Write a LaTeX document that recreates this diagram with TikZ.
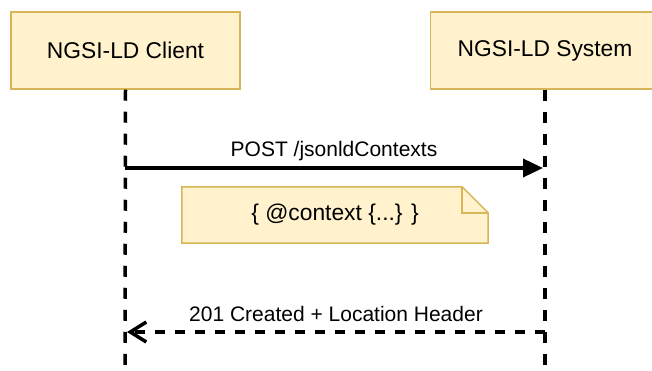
\documentclass[tikz,border=0pt]{standalone}
\usepackage{fontspec}
\setmainfont{Liberation Sans}
\usetikzlibrary{arrows.meta, positioning, backgrounds, calc}

\definecolor{notefill}{HTML}{FFF2CC}
\definecolor{notedraw}{HTML}{D6B656}

\begin{document}
\begin{tikzpicture}[
  x=1pt, y=-1pt,
  actor/.style={rectangle, draw=notedraw, fill=notefill, line width=1.5pt,
                minimum width=229pt, minimum height=77pt, align=center,
                font=\fontsize{22.8}{26}\selectfont},
  notebox/.style={rectangle, minimum width=306pt, minimum height=56pt,
                  align=center, font=\fontsize{22.8}{26}\selectfont},
  lifeline/.style={line width=3.5pt, dash pattern=on 11pt off 11pt},
  msg/.style={-{Triangle[length=20pt, width=18pt]}, line width=3.5pt},
  reply/.style={-{Straight Barb[length=16pt, width=20pt]}, line width=3.5pt,
                dash pattern=on 10pt off 10pt},
  mlbl/.style={font=\fontsize{21}{24}\selectfont, inner sep=0pt}
]
\useasboundingbox (0,0) rectangle (652,371);

% Row Y=50: participants
\node[actor] (client) at (125.5, 50.5) {NGSI-LD Client};
\node[actor] (system) at (545, 50.5) {NGSI-LD System};

% Lifeline ends
\coordinate (clientend) at (125, 371);
\coordinate (systemend) at (545, 371);

% Message end points on the lifelines
\coordinate (posts) at (125, 168);
\coordinate (poste) at (543, 168);
\coordinate (replys) at (545, 332);
\coordinate (replye) at (127, 332);

% Note with folded corner
\node[notebox] (note) at (335, 215) {\{ @context \{...\} \}};
\begin{pgfonlayer}{background}
  \draw[draw=notedraw, fill=notefill, line width=1.5pt, line join=miter]
    (note.north west) -- ($(note.north east)+(-26,0)$)
    -- ($(note.north east)+(0,26)$) -- (note.south east)
    -- (note.south west) -- cycle;
  \draw[draw=notedraw, line width=1.5pt]
    ($(note.north east)+(-26,0)$) -- ($(note.north east)+(-26,26)$)
    -- ($(note.north east)+(0,26)$);
\end{pgfonlayer}

% --- Lifelines ---
\draw[lifeline] (client.south) -- (clientend);
\draw[lifeline] (system.south) -- (systemend);

% --- Messages ---
\draw[msg] (posts) -- node[mlbl, above=5pt]{POST /jsonldContexts} (poste);
\draw[reply] (replys) -- node[mlbl, above=9pt]{201 Created + Location Header} (replye);

\end{tikzpicture}
\end{document}
